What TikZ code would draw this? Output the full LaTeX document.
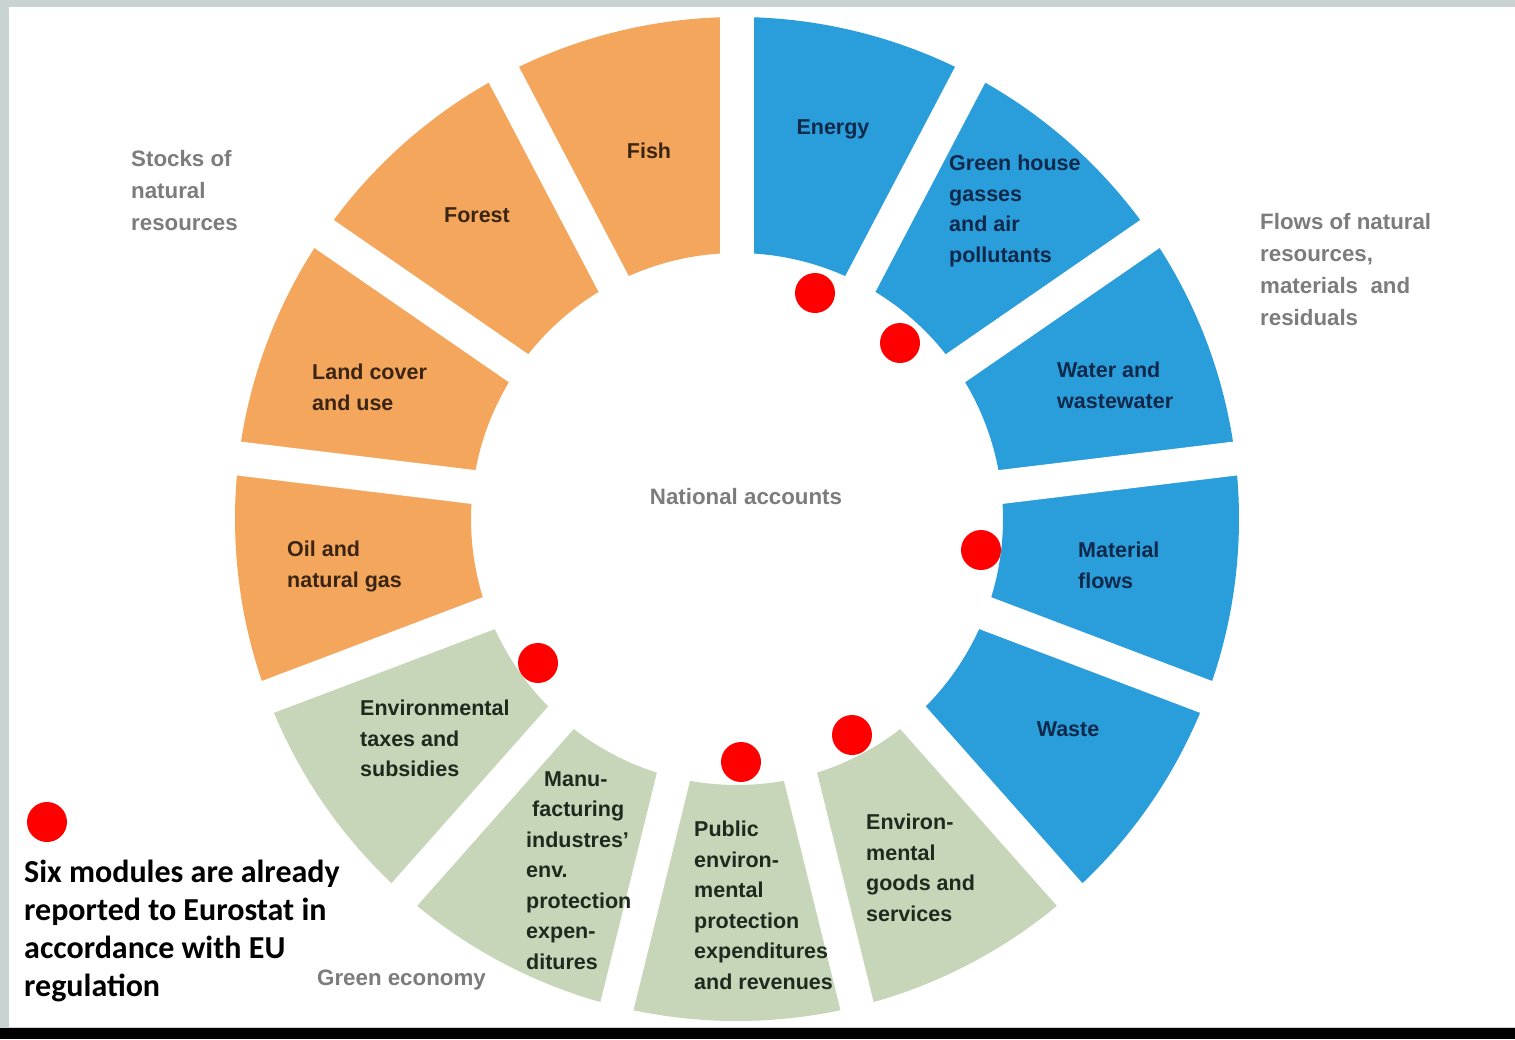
\documentclass[tikz,border=0pt]{standalone}
\usepackage{fontspec}
\setmainfont{Liberation Sans}
\newfontfamily\carlito{Carlito}
\definecolor{frameg}{HTML}{C9D3D3}
\definecolor{segor}{HTML}{F4A75C}
\definecolor{segbl}{HTML}{2A9DDB}
\definecolor{seggr}{HTML}{C7D5B8}
\definecolor{txor}{HTML}{3A2414}
\definecolor{txbl}{HTML}{10294A}
\definecolor{txgr}{HTML}{1F2A1F}
\definecolor{txgray}{HTML}{7C7C7C}
\definecolor{dotred}{HTML}{FF0000}
\tikzset{
  lab/.style={font=\bfseries\fontsize{21.5}{30.5}\selectfont, align=left, inner sep=0pt, anchor=north west},
  labc/.style={font=\bfseries\fontsize{21.5}{30.5}\selectfont, inner sep=0pt, anchor=base},
  graylab/.style={font=\bfseries\fontsize{22.3}{32}\selectfont, align=left, inner sep=0pt, anchor=north west, text=txgray},
  reddot/.style={circle, fill=dotred, minimum size=40pt, inner sep=0pt},
  note/.style={font=\carlito\bfseries\fontsize{32}{38}\selectfont, align=left, inner sep=0pt, anchor=north west}
}
\begin{document}
\begin{tikzpicture}[x=1pt,y=-1pt]
\useasboundingbox (0,0) rectangle (1515,1039);
\fill[frameg] (0,0) rectangle (1515,1039);
\fill[white] (9,7) rectangle (1515,1027);
\fill[black] (0,1028) rectangle (1515,1039);
% ring
\begin{scope}[shift={(737,519)}, yscale=-1]
  \foreach \i/\c in {0/segbl,1/segbl,2/segbl,3/segbl,4/segbl,5/seggr,6/seggr,7/seggr,8/seggr,9/segor,10/segor,11/segor,12/segor}{
    \pgfmathsetmacro\a{90-\i*360/13}
    \pgfmathsetmacro\b{90-(\i+1)*360/13}
    \fill[\c] (\a:502) arc[start angle=\a, end angle=\b, radius=502] -- (\b:266) arc[start angle=\b, end angle=\a, radius=266] -- cycle;
  }
  \foreach \i in {0,...,12}{
    \pgfmathsetmacro\a{90-\i*360/13}
    \draw[white, line width=34pt] (\a:240) -- (\a:506);
  }
\end{scope}
% segment labels
\node[labc, text=txbl] (energy) at (833,134) {Energy};
\node[lab, text=txbl] (ghg) at (949,155) {Green house\\gasses\\and air\\pollutants};
\node[lab, text=txbl] (water) at (1057,362) {Water and\\wastewater};
\node[lab, text=txbl] (material) at (1078,542) {Material\\flows};
\node[labc, text=txbl] (waste) at (1068,736) {Waste};
\node[lab, text=txgr] (egs) at (866,814) {Environ-\\mental\\goods and\\services};
\node[lab, text=txgr] (public) at (694,821) {Public\\environ-\\mental\\protection\\expenditures\\and revenues};
\node[lab, text=txgr] (manu) at (526,771) {\hspace*{18pt}Manu-\\\hspace*{6pt}facturing\\industres'\\env.\\protection\\expen-\\ditures};
\node[lab, text=txgr] (taxes) at (360,700) {Environmental\\taxes and\\subsidies};
\node[lab, text=txor] (oil) at (287,541) {Oil and\\natural gas};
\node[lab, text=txor] (land) at (312,364) {Land cover\\and use};
\node[labc, text=txor] (forest) at (477,222) {Forest};
\node[labc, text=txor] (fish) at (649,158) {Fish};
% gray labels
\node[graylab] (stocks) at (131,150) {Stocks of\\natural\\resources};
\node[graylab] (flows) at (1260,213) {Flows of natural\\resources,\\materials \ and\\residuals};
\node[graylab, anchor=base] (nat) at (746,504) {National accounts};
\node[graylab, anchor=base west] (green) at (317,985) {Green economy};
% red dots
\node[reddot] (d1) at (815,293) {};
\node[reddot] (d2) at (900,343) {};
\node[reddot] (d3) at (981,550) {};
\node[reddot] (d4) at (538,663) {};
\node[reddot] (d5) at (741,762) {};
\node[reddot] (d6) at (852,735) {};
\node[reddot] (d0) at (47,822) {};
\node[note] (six) at (24,860) {Six modules are already\\reported to Eurostat in\\accordance with EU\\regulation};
\end{tikzpicture}
\end{document}
